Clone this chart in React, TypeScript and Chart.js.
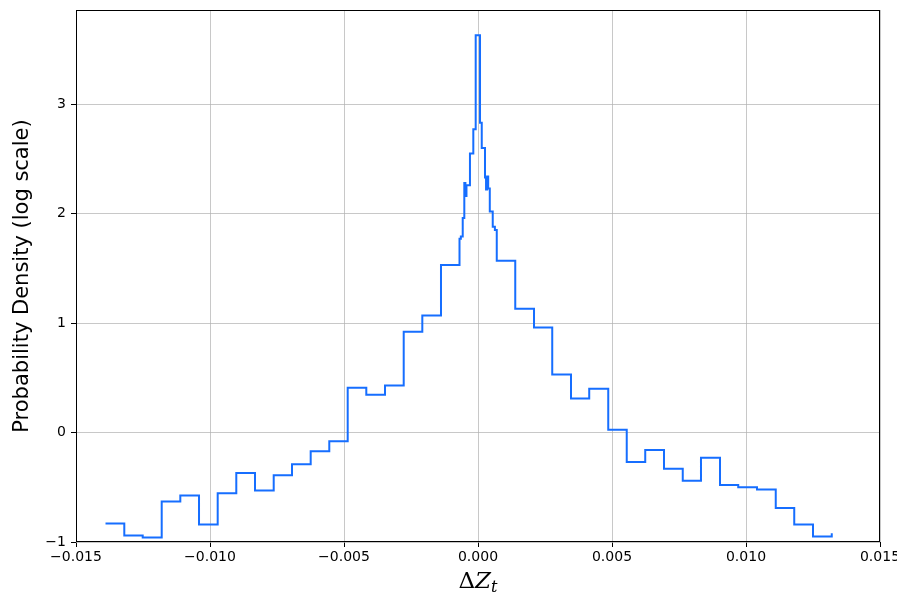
import React, { useEffect, useRef } from "react";
import { Chart, registerables } from "chart.js";

Chart.register(...registerables);

// Histogram bin left edges (ΔZ_t) and log10 probability density of each bin
const binEdges = [
  -0.013899, -0.013198, -0.012511, -0.011802, -0.011108, -0.01041, -0.009713, -0.009019,
  -0.008321, -0.007623, -0.00694, -0.006243, -0.005549, -0.004862, -0.004168, -0.00347,
  -0.002772, -0.002078, -0.001381,
  -0.00069, -0.00064, -0.00057, -0.000511, -0.00047, -0.00043, -0.0003, -0.000175,
  -0.000086, 0.000075, 0.00014, 0.000261, 0.0003, 0.00034, 0.00038, 0.00044, 0.00055, 0.00063,
  0.0007, 0.00139, 0.00209, 0.00277, 0.00347, 0.00415, 0.00486, 0.00555, 0.00624, 0.00694,
  0.00764, 0.00832, 0.00903, 0.00971, 0.01041, 0.01111, 0.0118, 0.0125, 0.0132,
];
const logDensity = [
  -0.83, -0.94, -0.96, -0.63, -0.575, -0.84, -0.555, -0.37,
  -0.53, -0.39, -0.29, -0.17, -0.08, 0.41, 0.345, 0.43,
  0.92, 1.07, 1.53,
  1.77, 1.79, 1.96, 2.28, 2.16, 2.26, 2.55, 2.77,
  3.63, 2.83, 2.6, 2.33, 2.22, 2.34, 2.23, 2.02, 1.88, 1.85,
  1.57, 1.13, 0.96, 0.53, 0.31, 0.4, 0.025, -0.27, -0.16, -0.33,
  -0.44, -0.23, -0.48, -0.5, -0.52, -0.69, -0.84, -0.95, -0.92,
];
const xTicks = [-0.015, -0.01, -0.005, 0, 0.005, 0.01, 0.015];
const yTicks = [-1, 0, 1, 2, 3];
const xTitleParts = ["\u0394", "Z", "t"];

const fmtMinus = (s: string) => s.replace("-", "\u2212");

const decorations = {
  id: "decorations",
  afterDatasetsDraw(chart: any) {
    const { ctx, chartArea: a } = chart;
    ctx.save();
    ctx.strokeStyle = "#000";
    ctx.lineWidth = 1;
    ctx.strokeRect(Math.round(a.left) + 0.5, Math.round(a.top) + 0.5, Math.round(a.right - a.left) - 1, Math.round(a.bottom - a.top) - 1);
    // x-axis math title: upright Δ, italic Z, italic subscript t
    const cx = (a.left + a.right) / 2;
    const base = 588;
    const fUp = "23px 'DejaVu Serif'";
    const fIt = "italic 23px 'DejaVu Serif'";
    const fSub = "italic 16px 'DejaVu Serif'";
    ctx.fillStyle = "#000";
    ctx.textBaseline = "alphabetic";
    ctx.textAlign = "left";
    ctx.font = fUp;
    const w1 = ctx.measureText(xTitleParts[0]).width;
    ctx.font = fIt;
    const w2 = ctx.measureText(xTitleParts[1]).width;
    ctx.font = fSub;
    const w3 = ctx.measureText(xTitleParts[2]).width;
    let x = cx - (w1 + w2 + w3) / 2;
    ctx.font = fUp;
    ctx.fillText(xTitleParts[0], x, base);
    x += w1;
    ctx.font = fIt;
    ctx.fillText(xTitleParts[1], x, base);
    x += w2;
    ctx.font = fSub;
    ctx.fillText(xTitleParts[2], x, base + 4);
    ctx.restore();
  },
};

export default function App() {
  const ref = useRef<HTMLCanvasElement>(null);
  useEffect(() => {
    const points = binEdges.map((x, i) => ({ x, y: logDensity[i] }));
    const chart = new Chart(ref.current!, {
      type: "line",
      data: {
        datasets: [
          {
            data: points,
            stepped: "before",
            borderColor: "#166eff",
            borderWidth: 2,
            pointRadius: 0,
            fill: false,
          },
        ],
      },
      options: {
        animation: false,
        responsive: false,
        devicePixelRatio: 1,
        layout: { padding: { top: 10, right: 17, left: 0, bottom: 0 } },
        plugins: { legend: { display: false }, tooltip: { enabled: false } },
        scales: {
          x: {
            type: "linear",
            min: -0.015,
            max: 0.015,
            afterFit: (s: any) => {
              s.height = 55;
              s.paddingLeft = 0; s.paddingRight = 0; s.paddingTop = 0; s.paddingBottom = 0;
            },
            afterBuildTicks: (s: any) => { s.ticks = xTicks.map((v) => ({ value: v })); },
            border: { display: false },
            grid: { color: "rgba(176,176,176,0.7)", lineWidth: 1, tickColor: "#000", tickLength: 5 },
            ticks: {
              color: "#000",
              padding: 2,
              maxRotation: 0,
              font: { family: "DejaVu Sans", size: 14 },
              callback: (v: any) => fmtMinus(Number(v).toFixed(3)),
            },
            title: { display: false, text: "\u0394Z\u209C" },
          },
          y: {
            type: "linear",
            min: -1,
            max: 3.86,
            afterFit: (s: any) => {
              s.width = 76;
              s.paddingLeft = 0; s.paddingRight = 0; s.paddingTop = 0; s.paddingBottom = 0;
            },
            afterBuildTicks: (s: any) => { s.ticks = yTicks.map((v) => ({ value: v })); },
            border: { display: false },
            grid: { color: "rgba(176,176,176,0.7)", lineWidth: 1, tickColor: "#000", tickLength: 5 },
            ticks: {
              color: "#000",
              padding: 5,
              font: { family: "DejaVu Sans", size: 14 },
              callback: (v: any) => fmtMinus(String(Math.round(Number(v)))),
            },
            title: {
              display: true,
              text: "Probability Density (log scale)",
              color: "#000",
              font: { family: "DejaVu Sans", size: 21 },
              padding: { top: 10, bottom: 0 },
            },
          },
        },
      },
      plugins: [decorations],
    });
    return () => chart.destroy();
  }, []);
  return (
    <div style={{ position: "fixed", left: 0, top: 0, width: 897, height: 597, background: "#fff" }}>
      <canvas ref={ref} width={897} height={597} style={{ display: "block" }} />
    </div>
  );
}
